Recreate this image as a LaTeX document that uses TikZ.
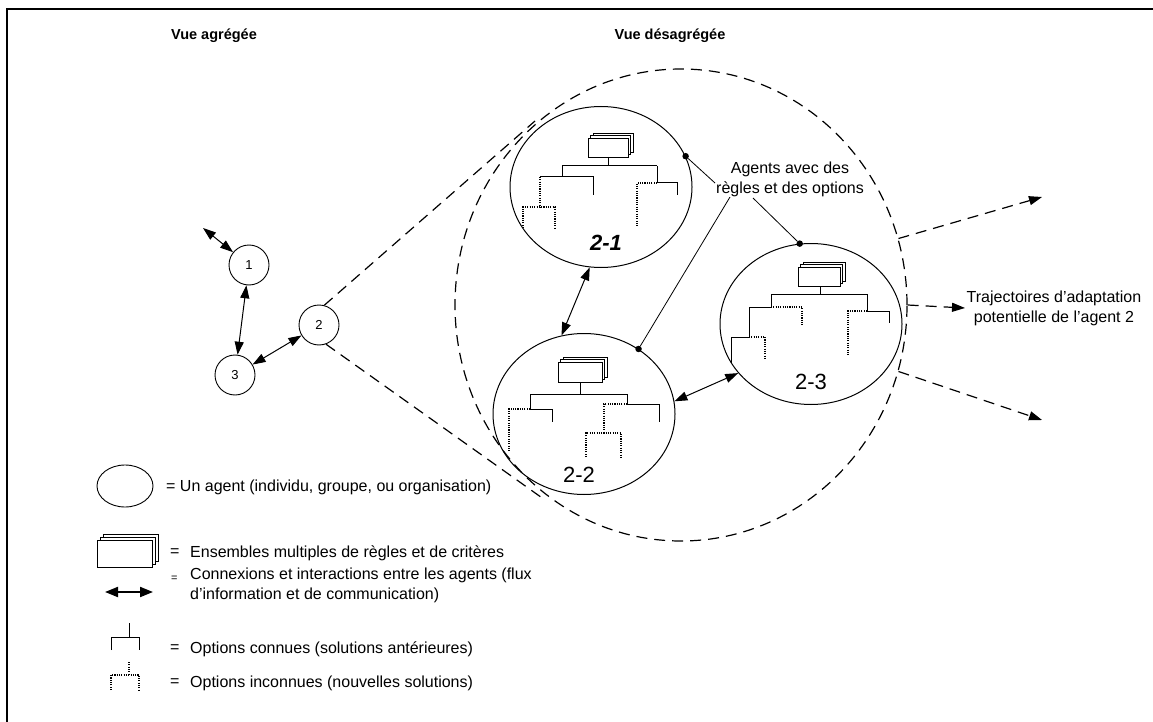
\documentclass[tikz,border=0pt]{standalone}
\usepackage{fontspec}
\setmainfont{Liberation Sans}
\usetikzlibrary{arrows.meta,shapes.geometric,calc}
\tikzset{
 agent/.style={draw, line width=0.9pt, circle, minimum size=40pt, inner sep=0pt, font=\fontsize{13}{15}\selectfont},
 bigagent/.style={draw, line width=1pt, ellipse, minimum width=182pt, minimum height=161pt, inner sep=0pt},
 known/.style={line width=1pt},
 unknown/.style={line width=1.5pt, dash pattern=on 1.1pt off 1.2pt},
 dashline/.style={line width=1.2pt, dash pattern=on 11pt off 7pt},
 tip/.style={},
 inter/.style={line width=1pt, {Triangle[length=13pt,width=9pt]}-{Triangle[length=13pt,width=9pt]}},
 traj/.style={dashline, -{Triangle[length=13pt,width=9pt]}},
 lbl/.style={font=\fontsize{16}{20}\selectfont, inner sep=0pt},
 ttl/.style={font=\fontsize{14.5}{17}\selectfont\bfseries, inner sep=0pt},
 num/.style={font=\fontsize{22}{24}\selectfont, inner sep=0pt},
 leader/.style={line width=0.8pt},
 dot/.style={circle, fill, inner sep=0pt, minimum size=6.5pt},
 boxlayer/.style={draw, fill=white, line width=0.8pt},
}
\newcommand{\stackbox}[5]{% x y w h offset
 \foreach \d in {2,1,0} {
   \draw[boxlayer] (#1+\d*#5, #2-\d*#5) rectangle ++(#3,#4);
 }
}
\begin{document}
\begin{tikzpicture}[x=1pt,y=-1pt]
\useasboundingbox (0,0) rectangle (1153,722);
\fill[white] (0,0) rectangle (1153,722);
% frame
\draw[line width=1.3pt] (1153,9) -- (7,9) -- (7,722);

% titles
\node[ttl] (t1) at (214,36) {Vue agrégée};
\node[ttl] (t2) at (670,36) {Vue désagrégée};

% big dashed envelope
\node[draw, dashline, ellipse, minimum width=452pt, minimum height=472pt, inner sep=0pt] (big) at (681,305) {};

% aggregated view agents
\node[agent] (n1) at (249,265) {1};
\node[agent] (n2) at (319,325) {2};
\node[agent] (n3) at (235,375) {3};
\coordinate (o1) at (203,228);
\draw[inter] (o1) -- (n1);
\draw[inter] (n1) -- (n3);
\draw[inter] (n3) -- (n2);

% zoom lines
\coordinate (tu) at (535,121);
\coordinate (tl) at (545,500);
\draw[dashline] (n2.75) -- (tu);
\draw[dashline] (n2.-70) -- (tl);

% disaggregated agents
\node[bigagent] (a21) at (601,187) {};
\node[bigagent] (a22) at (584,414) {};
\node[bigagent] (a23) at (811,324) {};
\node[num, font=\fontsize{22}{24}\selectfont\bfseries\itshape] (l21) at (606,243) {2-1};
\node[num] (l22) at (579,475) {2-2};
\node[num] (l23) at (811,382) {2-3};

\draw[inter] (a21.262) -- (a22.106);
\draw[inter] (a22.8) -- (a23.214);

% ---- tree 2-1
\stackbox{588}{138}{40}{19}{2.5}
\draw[known] (608,157) -- (608,166);
\draw[known] (562,166) -- (657,166);
\draw[known] (562,166) -- (562,177);
\draw[known] (540,177) -- (593,177) -- (593,195);
\draw[unknown] (540,177) -- (540,207);
\draw[unknown] (523,228) -- (523,207) -- (555,207) -- (555,229);
\draw[known] (657,166) -- (657,183) -- (677,183) -- (677,195);
\draw[unknown] (657,183) -- (637,183) -- (637,227);

% ---- tree 2-2
\stackbox{558}{362}{44}{20}{2.5}
\draw[known] (580,382) -- (580,394);
\draw[known] (530,394) -- (627,394);
\draw[known] (530,394) -- (530,409) -- (552,409) -- (552,422);
\draw[unknown] (530,409) -- (509,409) -- (509,452);
\draw[known] (627,394) -- (627,404) -- (659,404) -- (659,422);
\draw[unknown] (627,404) -- (604,404) -- (604,433);
\draw[unknown] (586,457) -- (586,433) -- (621,433) -- (621,457);

% ---- tree 2-3
\stackbox{798}{267}{42}{19}{2.5}
\draw[known] (820,286) -- (820,294);
\draw[known] (771,294) -- (867,294);
\draw[known] (771,294) -- (771,307) -- (749,307) -- (749,337) -- (731,337) -- (731,363);
\draw[unknown] (771,307) -- (802,307) -- (802,325);
\draw[unknown] (749,337) -- (765,337) -- (765,360);
\draw[known] (867,294) -- (867,311) -- (889,311) -- (889,323);
\draw[unknown] (867,311) -- (848,311) -- (848,355);

% ---- leader label
\node[lbl, align=center] (lab) at (790,179) {Agents avec des\\règles et des options};
\node[dot] (d1) at (a21.20) {};
\node[dot] (d2) at (a22.50) {};
\node[dot] (d3) at (a23.98) {};
\coordinate (p1) at (715,183);
\coordinate (p2) at (730,197);
\coordinate (p3) at (753,198);
\draw[leader] (d1) -- (p1);
\draw[leader] (d2) -- (p2);
\draw[leader] (d3) -- (p3);

% ---- trajectories
\coordinate (e1) at (1042,197);
\coordinate (e2) at (965,308);
\coordinate (e3) at (1042,420);
\draw[traj] (big.17) -- (e1);
\draw[traj] (big.0) -- (e2);
\draw[traj] (big.-17) -- (e3);
\node[lbl, align=center] (trj) at (1054,308) {Trajectoires d'adaptation\\potentielle de l'agent 2};

% ---- legend
\node[draw, ellipse, line width=0.9pt, minimum width=56pt, minimum height=42pt, inner sep=0pt] (lg1) at (125,486) {};
\node[lbl, anchor=west] (lt1) at (166,487) {= Un agent (individu, groupe, ou organisation)};

\stackbox{97}{540}{55}{27}{3}
\node[lbl, anchor=west] (le2) at (170,553) {=};
\node[lbl, anchor=west] (lt2) at (190,553) {Ensembles multiples de règles et de critères};

\coordinate (la) at (105,592);
\coordinate (lb) at (153,592);
\draw[line width=2pt, {Triangle[length=13pt,width=10pt]}-{Triangle[length=13pt,width=10pt]}] (la) -- (lb);
\node[lbl, anchor=west, font=\fontsize{11}{12}\selectfont] (le3) at (171,579) {=};
\node[lbl, anchor=west, align=left] (lt3) at (190,585) {Connexions et interactions entre les agents (flux\\d'information et de communication)};

\draw[known] (129,623) -- (129,637);
\draw[known] (111,650) -- (111,637) -- (139,637) -- (139,650);
\node[lbl, anchor=west] (le4) at (170,649) {=};
\node[lbl, anchor=west] (lt4) at (190,649) {Options connues (solutions antérieures)};

\draw[unknown] (129,662) -- (129,675);
\draw[unknown] (111,690) -- (111,675) -- (139,675) -- (139,690);
\node[lbl, anchor=west] (le5) at (170,683) {=};
\node[lbl, anchor=west] (lt5) at (190,683) {Options inconnues (nouvelles solutions)};
\end{tikzpicture}
\end{document}
